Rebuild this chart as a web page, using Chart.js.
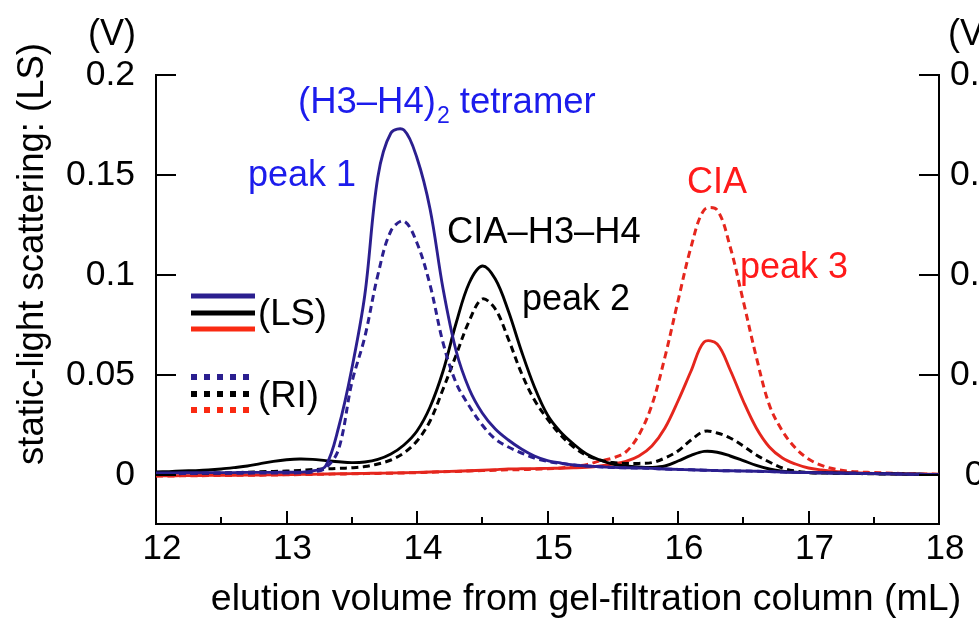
<!DOCTYPE html>
<html>
<head>
<meta charset="utf-8">
<script src="https://cdn.jsdelivr.net/npm/chart.js@4.4.1/dist/chart.umd.min.js"></script>
<style>
	html, body { margin: 0; padding: 0; background: #fff; overflow: hidden; }
</style>
</head>
<body>
<canvas id="chart" width="979" height="620"></canvas>
<script>
// elution volume (mL), one reading every 0.1 mL
var volume = [
	12.0, 12.1, 12.2, 12.3, 12.4, 12.5, 12.6, 12.7, 12.8, 12.9,
	13.0, 13.1, 13.2, 13.3, 13.4, 13.5, 13.6, 13.7, 13.8, 13.9,
	14.0, 14.1, 14.2, 14.3, 14.4, 14.5, 14.6, 14.7, 14.8, 14.9,
	15.0, 15.1, 15.2, 15.3, 15.4, 15.5, 15.6, 15.7, 15.8, 15.9,
	16.0, 16.1, 16.2, 16.3, 16.4, 16.5, 16.6, 16.7, 16.8, 16.9,
	17.0, 17.1, 17.2, 17.3, 17.4, 17.5, 17.6, 17.7, 17.8, 17.9,
	18.0
];

// static light scattering, left axis (V)
var tetramerLS = [
	0.0010, 0.0010, 0.0011, 0.0011, 0.0012, 0.0012, 0.0012, 0.0013, 0.0013, 0.0013,
	0.0014, 0.0014, 0.0020, 0.0045, 0.0240, 0.0530, 0.0900, 0.1490, 0.1710, 0.1725,
	0.1585, 0.1330, 0.0930, 0.0620, 0.0430, 0.0310, 0.0230, 0.0175, 0.0130, 0.0095,
	0.0072, 0.0060, 0.0050, 0.0045, 0.0041, 0.0038, 0.0036, 0.0035, 0.0033, 0.0030,
	0.0028, 0.0026, 0.0024, 0.0022, 0.0021, 0.0020, 0.0019, 0.0017, 0.0015, 0.0013,
	0.0012, 0.0011, 0.0010, 0.0009, 0.0008, 0.0007, 0.0006, 0.0005, 0.0004, 0.0003,
	0.0002
];
var complexLS = [
	0.0015, 0.0017, 0.0020, 0.0022, 0.0025, 0.0030, 0.0037, 0.0045, 0.0057, 0.0068,
	0.0076, 0.0080, 0.0078, 0.0072, 0.0066, 0.0062, 0.0065, 0.0078, 0.0105, 0.0150,
	0.0220, 0.0340, 0.0520, 0.0760, 0.0960, 0.1045, 0.0980, 0.0820, 0.0620, 0.0440,
	0.0300, 0.0215, 0.0155, 0.0105, 0.0075, 0.0055, 0.0045, 0.0040, 0.0038, 0.0045,
	0.0070, 0.0098, 0.0118, 0.0114, 0.0095, 0.0072, 0.0048, 0.0030, 0.0019, 0.0014,
	0.0012, 0.0011, 0.0010, 0.0009, 0.0008, 0.0007, 0.0006, 0.0005, 0.0004, 0.0003,
	0.0002
];
var ciaLS = [
	-0.0004, -0.0004, -0.0003, -0.0003, -0.0002, -0.0002, -0.0001, 0.0000, 0.0000, 0.0001,
	0.0002, 0.0003, 0.0004, 0.0005, 0.0006, 0.0007, 0.0008, 0.0009, 0.0010, 0.0011,
	0.0013, 0.0015, 0.0017, 0.0019, 0.0021, 0.0024, 0.0027, 0.0030, 0.0031, 0.0032,
	0.0033, 0.0034, 0.0036, 0.0039, 0.0045, 0.0055, 0.0068, 0.0095, 0.0145, 0.0235,
	0.0370, 0.0520, 0.0665, 0.0655, 0.0525, 0.0370, 0.0235, 0.0140, 0.0085, 0.0055,
	0.0035, 0.0025, 0.0018, 0.0013, 0.0010, 0.0008, 0.0007, 0.0006, 0.0005, 0.0004,
	0.0003
];

// refractive index, right axis
var tetramerRI = [
	0.0016, 0.0016, 0.0016, 0.0016, 0.0018, 0.0018, 0.0018, 0.0018, 0.0020, 0.0020,
	0.0020, 0.0022, 0.0030, 0.0070, 0.0260, 0.0920, 0.1380, 0.2000, 0.2440, 0.2540,
	0.2320, 0.1900, 0.1320, 0.0920, 0.0690, 0.0500, 0.0360, 0.0280, 0.0220, 0.0170,
	0.0136, 0.0116, 0.0100, 0.0090, 0.0082, 0.0076, 0.0072, 0.0070, 0.0066, 0.0060,
	0.0056, 0.0052, 0.0048, 0.0044, 0.0042, 0.0040, 0.0038, 0.0034, 0.0030, 0.0026,
	0.0024, 0.0022, 0.0020, 0.0018, 0.0016, 0.0014, 0.0012, 0.0010, 0.0008, 0.0006,
	0.0004
];
var complexRI = [
	0.0010, 0.0012, 0.0014, 0.0016, 0.0018, 0.0020, 0.0024, 0.0028, 0.0032, 0.0036,
	0.0040, 0.0046, 0.0054, 0.0060, 0.0066, 0.0072, 0.0084, 0.0110, 0.0150, 0.0220,
	0.0340, 0.0540, 0.0860, 0.1200, 0.1540, 0.1760, 0.1660, 0.1360, 0.1020, 0.0750,
	0.0560, 0.0400, 0.0280, 0.0196, 0.0150, 0.0124, 0.0116, 0.0116, 0.0124, 0.0170,
	0.0240, 0.0350, 0.0436, 0.0420, 0.0370, 0.0290, 0.0200, 0.0130, 0.0070, 0.0040,
	0.0024, 0.0020, 0.0018, 0.0016, 0.0014, 0.0012, 0.0010, 0.0009, 0.0008, 0.0006,
	0.0004
];
var ciaRI = [
	-0.0010, -0.0010, -0.0008, -0.0008, -0.0006, -0.0006, -0.0004, -0.0002, -0.0002, 0.0000,
	0.0002, 0.0004, 0.0006, 0.0008, 0.0010, 0.0012, 0.0014, 0.0016, 0.0018, 0.0020,
	0.0024, 0.0028, 0.0032, 0.0036, 0.0040, 0.0044, 0.0048, 0.0052, 0.0054, 0.0058,
	0.0062, 0.0070, 0.0084, 0.0104, 0.0140, 0.0170, 0.0230, 0.0400, 0.0700, 0.1180,
	0.1740, 0.2280, 0.2650, 0.2650, 0.2280, 0.1740, 0.1180, 0.0700, 0.0440, 0.0270,
	0.0160, 0.0096, 0.0060, 0.0040, 0.0030, 0.0024, 0.0020, 0.0016, 0.0012, 0.0010,
	0.0008
];

// axes
var lsTicks = [0, 0.05, 0.1, 0.15, 0.2];
var lsLabels = ['0', '0.05', '0.1', '0.15', '0.2'];
var riTicks = [0, 0.1, 0.2, 0.3, 0.4];
var riLabels = ['0', '0.1', '0.2', '0.3', '0.4'];
var volumeTicks = [12, 13, 14, 15, 16, 17, 18];
var volumeMinorTicks = [12.5, 13.5, 14.5, 15.5, 16.5, 17.5];

var BLUE = '#2b1f8f';
var BLACK = '#000000';
var RED = '#e5261d';
var FONT = '"Liberation Sans", Arial, Helvetica, sans-serif';

Chart.defaults.font.family = FONT;
Chart.defaults.color = '#000';

function pairs(ys) {
	return volume.map(function (v, i) { return {x: v, y: ys[i]}; });
}

function trace(label, ys, color, axis, dashed) {
	return {
		label: label,
		data: pairs(ys),
		yAxisID: axis,
		borderColor: color,
		borderWidth: dashed ? 3 : 2.9,
		borderDash: dashed ? [7, 4.5] : [],
		pointRadius: 0,
		tension: 0.35,
		fill: false
	};
}

function drawText(ctx, text, x, y, size, color) {
	ctx.font = size + 'px ' + FONT;
	ctx.fillStyle = color;
	ctx.textAlign = 'left';
	ctx.textBaseline = 'alphabetic';
	ctx.fillText(text, x, y);
	return x + ctx.measureText(text).width;
}

var decorations = {
	id: 'decorations',
	afterDraw: function (chart) {
		var ctx = chart.ctx;
		var area = chart.chartArea;
		var sx = chart.scales.x, sy = chart.scales.y, sy2 = chart.scales.y2;
		ctx.save();

		// inward tick marks
		ctx.strokeStyle = '#000';
		ctx.lineWidth = 2;
		ctx.setLineDash([]);
		lsTicks.forEach(function (v) {
			var py = Math.round(sy.getPixelForValue(v));
			ctx.beginPath(); ctx.moveTo(area.left, py); ctx.lineTo(area.left + 20, py); ctx.stroke();
		});
		riTicks.forEach(function (v) {
			var py = Math.round(sy2.getPixelForValue(v));
			ctx.beginPath(); ctx.moveTo(area.right, py); ctx.lineTo(area.right - 20, py); ctx.stroke();
		});
		volumeTicks.forEach(function (v) {
			var px = Math.round(sx.getPixelForValue(v));
			ctx.beginPath(); ctx.moveTo(px, area.bottom); ctx.lineTo(px, area.bottom - 13); ctx.stroke();
		});
		volumeMinorTicks.forEach(function (v) {
			var px = Math.round(sx.getPixelForValue(v));
			ctx.beginPath(); ctx.moveTo(px, area.bottom); ctx.lineTo(px, area.bottom - 7); ctx.stroke();
		});

		// unit labels above both axes
		drawText(ctx, '(V)', 88, 45, 36, '#000');
		drawText(ctx, '(V)', 948, 45, 36, '#000');

		// axis titles
		ctx.fillStyle = '#000';
		ctx.textAlign = 'center';
		ctx.textBaseline = 'alphabetic';
		ctx.font = '37.5px ' + FONT;
		ctx.fillText('elution volume from gel-filtration column (mL)', 586, 610);
		ctx.save();
		ctx.font = '36.5px ' + FONT;
		ctx.translate(43, 254);
		ctx.rotate(-Math.PI / 2);
		ctx.fillText('static-light scattering: (LS)', 0, 0);
		ctx.restore();

		// peak annotations
		var blueText = '#1c1cec';
		var redText = '#ff1a1a';
		var nx = drawText(ctx, '(H3\u2013H4)', 298, 113, 36.5, blueText);
		nx = drawText(ctx, '2', nx + 1, 123, 23, blueText);
		drawText(ctx, ' tetramer', nx, 113, 36.5, blueText);
		drawText(ctx, 'peak 1', 248, 186, 36, blueText);
		drawText(ctx, 'CIA\u2013H3\u2013H4', 447, 243, 36.3, '#000');
		drawText(ctx, 'peak 2', 522, 310, 36, '#000');
		drawText(ctx, 'CIA', 687, 193, 36, redText);
		drawText(ctx, 'peak 3', 740, 278, 36, redText);

		// key: solid = LS, dotted = RI
		ctx.lineWidth = 5;
		[[BLUE, 296], [BLACK, 313], ['#fa2a12', 329]].forEach(function (k) {
			ctx.strokeStyle = k[0];
			ctx.beginPath(); ctx.moveTo(191, k[1]); ctx.lineTo(255, k[1]); ctx.stroke();
		});
		ctx.lineWidth = 6;
		ctx.setLineDash([6, 7]);
		[[BLUE, 377], [BLACK, 394], ['#fa2a12', 410]].forEach(function (k) {
			ctx.strokeStyle = k[0];
			ctx.beginPath(); ctx.moveTo(191, k[1]); ctx.lineTo(252, k[1]); ctx.stroke();
		});
		ctx.setLineDash([]);
		drawText(ctx, '(LS)', 258, 325, 36.5, '#000');
		drawText(ctx, '(RI)', 258, 407, 36.5, '#000');

		ctx.restore();
	}
};

var chartConfig = {
	type: 'line',
	data: {
		datasets: [
			trace('(H3-H4)2 LS', tetramerLS, BLUE, 'y', false),
			trace('(H3-H4)2 RI', tetramerRI, BLUE, 'y2', true),
			trace('CIA-H3-H4 LS', complexLS, BLACK, 'y', false),
			trace('CIA-H3-H4 RI', complexRI, BLACK, 'y2', true),
			trace('CIA LS', ciaLS, RED, 'y', false),
			trace('CIA RI', ciaRI, RED, 'y2', true)
		]
	},
	options: {
		responsive: false,
		animation: false,
		layout: {padding: {top: 75, left: 0, right: 0, bottom: 0}},
		plugins: {legend: {display: false}, tooltip: {enabled: false}},
		scales: {
			x: {
				type: 'linear',
				position: 'bottom',
				min: 12,
				max: 18,
				grid: {display: false, drawTicks: false},
				border: {display: true, color: '#000', width: 2},
				ticks: {stepSize: 1, font: {size: 35}, color: '#000', padding: 4, labelOffset: 6, maxRotation: 0},
				afterFit: function (scale) { scale.height = 96; }
			},
			y: {
				type: 'linear',
				position: 'left',
				min: -0.0245,
				max: 0.2,
				grid: {display: false, drawTicks: false},
				border: {display: true, color: '#000', width: 2},
				ticks: {
					font: {size: 35.5}, color: '#000', padding: 21,
					callback: function (value, i) { return lsLabels[i]; }
				},
				afterBuildTicks: function (scale) {
					scale.ticks = lsTicks.map(function (v) { return {value: v}; });
				},
				afterFit: function (scale) { scale.width = 156; }
			},
			y2: {
				type: 'linear',
				position: 'right',
				min: -0.049,
				max: 0.4,
				grid: {display: false, drawTicks: false},
				border: {display: true, color: '#000', width: 2},
				ticks: {
					font: {size: 35.5}, color: '#000', padding: 11, crossAlign: 'center',
					callback: function (value, i) { return riLabels[i]; }
				},
				afterBuildTicks: function (scale) {
					scale.ticks = riTicks.map(function (v) { return {value: v}; });
				},
				afterFit: function (scale) { scale.width = 40; }
			}
		}
	},
	plugins: [decorations]
};

window.elutionChart = new Chart(document.getElementById('chart').getContext('2d'), chartConfig);
</script>
</body>
</html>
